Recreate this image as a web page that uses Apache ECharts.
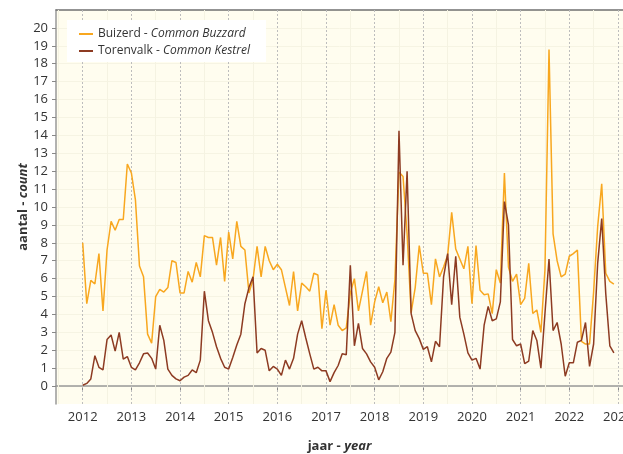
<!DOCTYPE html>
<html>
<head>
<meta charset="utf-8">
<script src="https://cdn.jsdelivr.net/npm/echarts@6/dist/echarts.min.js"></script>
<style>
  html, body { margin: 0; padding: 0; background: #ffffff; }
  #chart { width: 623px; height: 454px; }
</style>
</head>
<body>
<div id="chart"></div>
<script>
// Monthly counts, January 2012 through December 2022
const startYear = 2012;

const buzzardName = 'Buizerd';
const buzzardNameEn = 'Common Buzzard';
const buzzard = [
  8.0, 4.6, 5.9, 5.7, 7.4, 4.2, 7.6, 9.2, 8.7, 9.3, 9.3, 12.4,
  11.9, 10.4, 6.7, 6.1, 2.9, 2.4, 5.0, 5.4, 5.25, 5.5, 7.0, 6.9,
  5.2, 5.2, 6.4, 5.8, 6.9, 6.1, 8.4, 8.3, 8.3, 6.75, 8.3, 5.85,
  8.6, 7.1, 9.2, 7.8, 7.6, 5.2, 5.95, 7.8, 6.1, 7.8, 7.0, 6.5,
  6.8, 6.5, 5.5, 4.5, 6.4, 4.2, 5.75, 5.55, 5.3, 6.3, 6.2, 3.2,
  5.35, 3.4, 4.55, 3.4, 3.1, 3.25, 5.2, 6.0, 4.2, 5.3, 6.4, 3.4,
  4.7, 5.55, 4.65, 5.25, 3.6, 5.95, 11.95, 11.7, 8.5, 4.1, 5.5, 7.85,
  6.3, 6.3, 4.55, 7.1, 6.1, 6.65, 7.3, 9.7, 7.65, 7.1, 6.55, 7.8,
  4.6, 7.85, 5.35, 5.1, 5.15, 4.05, 6.5, 5.75, 11.9, 6.65, 5.85, 6.25,
  4.55, 4.9, 6.85, 4.05, 4.25, 3.0, 6.5, 18.8, 8.5, 7.0, 6.1, 6.25,
  7.25, 7.4, 7.6, 2.5, 2.35, 2.35, 5.25, 8.9, 11.3, 6.3, 5.85, 5.7
];

const kestrelName = 'Torenvalk';
const kestrelNameEn = 'Common Kestrel';
const kestrel = [
  0.05, 0.15, 0.4, 1.7, 1.05, 0.9, 2.6, 2.85, 1.95, 3.0, 1.5, 1.65,
  1.05, 0.9, 1.3, 1.8, 1.85, 1.55, 0.95, 3.4, 2.55, 0.95, 0.6, 0.4,
  0.3, 0.5, 0.6, 0.9, 0.75, 1.45, 5.3, 3.65, 3.0, 2.2, 1.55, 1.05,
  0.95, 1.6, 2.3, 2.9, 4.6, 5.5, 6.1, 1.85, 2.1, 2.0, 0.85, 1.1,
  0.95, 0.6, 1.45, 0.95, 1.55, 2.9, 3.65, 2.7, 1.8, 0.95, 1.05, 0.85,
  0.85, 0.25, 0.75, 1.15, 1.8, 1.75, 6.75, 2.25, 3.5, 2.1, 1.8, 1.35,
  1.05, 0.35, 0.8, 1.55, 1.9, 3.0, 14.25, 6.75, 12.0, 4.05, 3.1, 2.65,
  2.05, 2.2, 1.35, 2.5, 2.2, 6.1, 7.4, 4.55, 7.25, 3.85, 2.9, 1.85,
  1.45, 1.55, 0.95, 3.4, 4.45, 3.65, 3.75, 4.7, 10.3, 9.0, 2.6, 2.25,
  2.35, 1.25, 1.4, 3.1, 2.55, 1.0, 4.05, 7.1, 3.1, 3.55, 2.35, 0.55,
  1.3, 1.3, 2.45, 2.55, 3.55, 1.1, 2.35, 6.85, 9.35, 5.15, 2.25, 1.85
];

const yearTicks = [2012, 2013, 2014, 2015, 2016, 2017, 2018, 2019, 2020, 2021, 2022, 2023];
const halfYearLines = [2011.5, 2012.5, 2013.5, 2014.5, 2015.5, 2016.5, 2017.5, 2018.5, 2019.5, 2020.5, 2021.5, 2022.5];
const countTicks = [0, 1, 2, 3, 4, 5, 6, 7, 8, 9, 10, 11, 12, 13, 14, 15, 16, 17, 18, 19, 20];

const xTitle = ['jaar', 'year'];
const yTitle = ['aantal', 'count'];

const FONT = 'Open Sans';

const toPoints = arr => arr.map((v, i) => [startYear + i / 12, v]);

const legendLabels = {};
legendLabels[buzzardName] = buzzardNameEn;
legendLabels[kestrelName] = kestrelNameEn;

const chart = echarts.init(document.getElementById('chart'), null, { renderer: 'canvas' });

chart.setOption({
  animation: false,
  backgroundColor: '#ffffff',
  textStyle: { fontFamily: FONT },
  grid: {
    left: 56, right: 0, top: 10, bottom: 50,
    outerBoundsMode: 'none',
    containLabel: false,
    show: true, backgroundColor: '#fffdef', borderWidth: 0
  },
  legend: {
    left: 67, top: 20,
    orient: 'vertical',
    backgroundColor: '#ffffff',
    padding: [8, 16, 5, 12],
    itemGap: 5,
    icon: 'rect',
    itemWidth: 14, itemHeight: 2,
    data: [buzzardName, kestrelName],
    formatter: name => '{n|' + name + ' - }{i|' + legendLabels[name] + '}',
    textStyle: {
      fontFamily: FONT,
      rich: {
        n: { fontFamily: FONT, fontSize: 12, color: '#333', lineHeight: 15 },
        i: { fontFamily: FONT, fontSize: 12, fontStyle: 'italic', color: '#333', lineHeight: 15 }
      }
    }
  },
  xAxis: [{
    type: 'value',
    min: 2011.451, max: 2023.104,
    position: 'bottom',
    axisLine: { lineStyle: { color: '#999', width: 1.5 } },
    axisTick: { show: true, customValues: yearTicks, length: 4, lineStyle: { color: '#888' } },
    axisLabel: {
      customValues: yearTicks, margin: 7,
      color: '#333', fontFamily: FONT, fontSize: 13,
      formatter: v => String(Math.round(v))
    },
    splitLine: { show: false },
    name: '{b|' + xTitle[0] + ' - }{bi|' + xTitle[1] + '}',
    nameLocation: 'middle',
    nameGap: 36,
    nameMoveOverlap: false,
    nameTextStyle: {
      rich: {
        b: { fontFamily: FONT, fontSize: 13, fontWeight: 'bold', color: '#333' },
        bi: { fontFamily: FONT, fontSize: 13, fontWeight: 'bold', fontStyle: 'italic', color: '#333' }
      }
    }
  }, {
    type: 'value',
    min: 2011.451, max: 2023.104,
    position: 'top',
    axisLine: { show: true, lineStyle: { color: '#707070', width: 1.5 } },
    axisTick: { show: false },
    axisLabel: { show: false },
    splitLine: { show: false }
  }],
  yAxis: {
    type: 'value',
    min: -1, max: 21, interval: 1,
    axisLine: { show: true, lineStyle: { color: '#999', width: 1.5 } },
    axisTick: { show: true, customValues: countTicks, length: 4, lineStyle: { color: '#888' } },
    axisLabel: {
      customValues: countTicks, margin: 8,
      color: '#333', fontFamily: FONT, fontSize: 13
    },
    splitLine: { show: true, lineStyle: { color: '#f6f4e3', width: 1 } },
    name: '{b|' + yTitle[0] + ' - }{bi|' + yTitle[1] + '}',
    nameLocation: 'middle',
    nameRotate: 90,
    nameGap: 26,
    nameMoveOverlap: false,
    nameTextStyle: {
      rich: {
        b: { fontFamily: FONT, fontSize: 13, fontWeight: 'bold', color: '#333' },
        bi: { fontFamily: FONT, fontSize: 13, fontWeight: 'bold', fontStyle: 'italic', color: '#333' }
      }
    }
  },
  series: [
    {
      // year and half-year reference lines
      type: 'line',
      data: [],
      silent: true,
      markLine: {
        z: 1,
        silent: true,
        symbol: ['none', 'none'],
        label: { show: false },
        emphasis: { disabled: true },
        data: halfYearLines.map(x => ({ xAxis: x, lineStyle: { color: '#f5f3e2', type: 'solid', width: 1 } }))
          .concat(yearTicks.map(x => ({ xAxis: x, lineStyle: { color: '#bdbdbd', type: [2, 2], width: 1 } })))
      }
    },
    {
      name: buzzardName,
      type: 'line',
      data: toPoints(buzzard),
      showSymbol: false,
      symbol: 'none',
      z: 3,
      color: '#f8a71f',
      lineStyle: { color: '#f8a71f', width: 1.5 }
    },
    {
      name: kestrelName,
      type: 'line',
      data: toPoints(kestrel),
      showSymbol: false,
      symbol: 'none',
      z: 4,
      color: '#8d3b22',
      lineStyle: { color: '#8d3b22', width: 1.5 }
    }
  ]
});
</script>
</body>
</html>
